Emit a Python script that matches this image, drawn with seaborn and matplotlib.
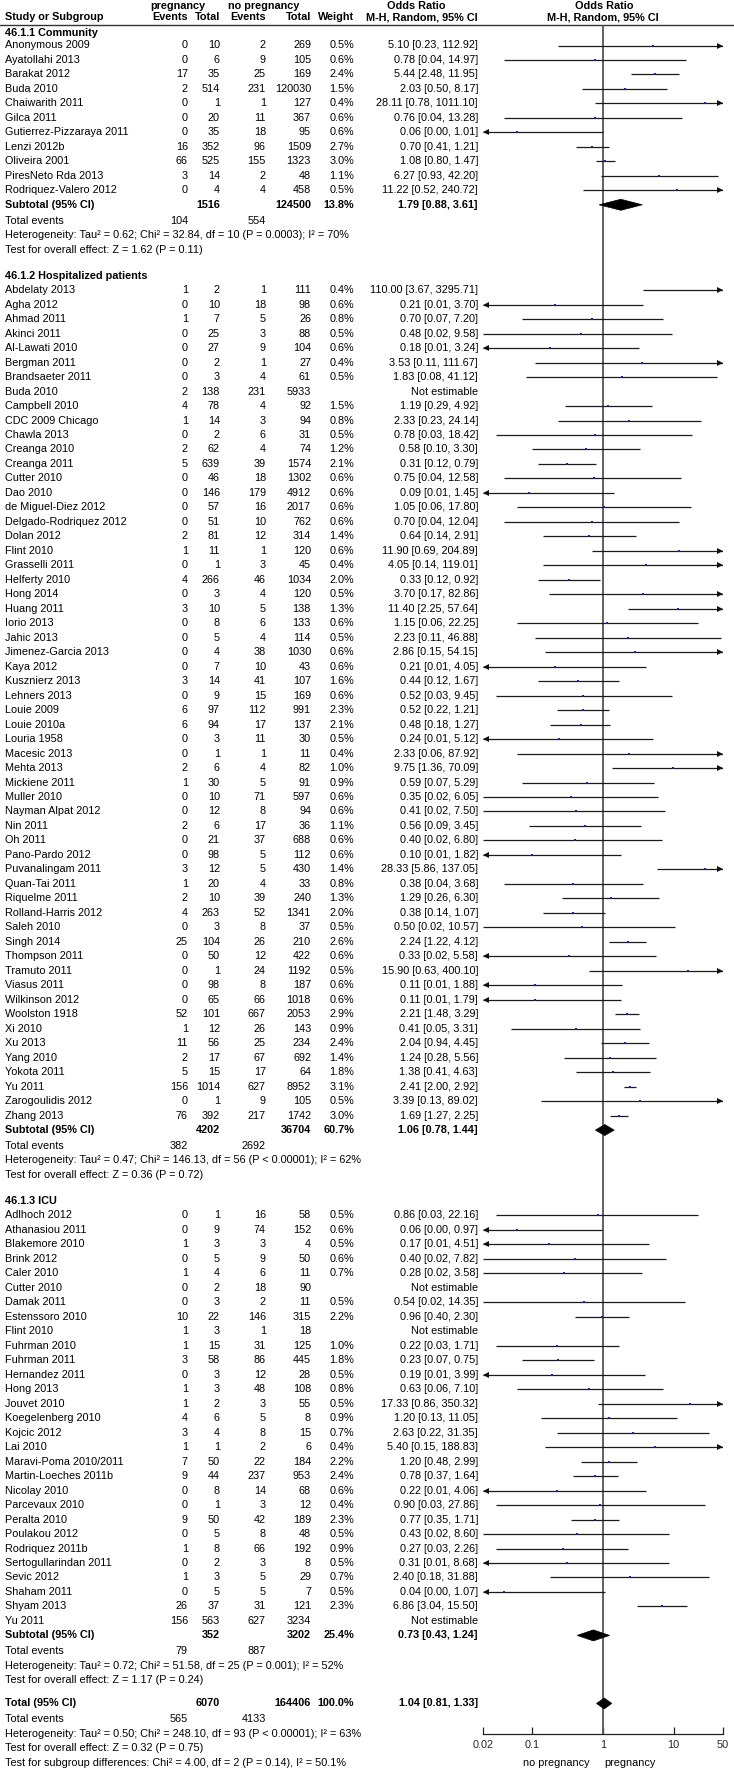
import numpy as np
import pandas as pd
import matplotlib
matplotlib.use("Agg")
import matplotlib.pyplot as plt
import seaborn as sns
from matplotlib.patches import Polygon
from matplotlib.transforms import offset_copy
from matplotlib.ticker import NullLocator

# ---------------- data ----------------
group_titles = ["46.1.1 Community", "46.1.2 Hospitalized patients", "46.1.3 ICU"]

comm_names = ["Anonymous 2009", "Ayatollahi 2013", "Barakat 2012", "Buda 2010", "Chaiwarith 2011",
              "Gilca 2011", "Gutierrez-Pizzaraya 2011", "Lenzi 2012b", "Oliveira 2001",
              "PiresNeto Rda 2013", "Rodriquez-Valero 2012"]
comm_ev_p = [0, 0, 17, 2, 0, 0, 0, 16, 66, 3, 0]
comm_tot_p = [10, 6, 35, 514, 1, 20, 35, 352, 525, 14, 4]
comm_ev_n = [2, 9, 25, 231, 1, 11, 18, 96, 155, 2, 4]
comm_tot_n = [269, 105, 169, 120030, 127, 367, 95, 1509, 1323, 48, 458]
comm_w = [0.5, 0.6, 2.4, 1.5, 0.4, 0.6, 0.6, 2.7, 3.0, 1.1, 0.5]
comm_or = [5.10, 0.78, 5.44, 2.03, 28.11, 0.76, 0.06, 0.70, 1.08, 6.27, 11.22]
comm_lo = [0.23, 0.04, 2.48, 0.50, 0.78, 0.04, 0.00, 0.41, 0.80, 0.93, 0.52]
comm_hi = [112.92, 14.97, 11.95, 8.17, 1011.10, 13.28, 1.01, 1.21, 1.47, 42.20, 240.72]

hosp_names = ["Abdelaty 2013", "Agha 2012", "Ahmad 2011", "Akinci 2011", "Al-Lawati 2010", "Bergman 2011",
              "Brandsaeter 2011", "Buda 2010", "Campbell 2010", "CDC 2009 Chicago", "Chawla 2013",
              "Creanga 2010", "Creanga 2011", "Cutter 2010", "Dao 2010", "de Miguel-Diez 2012",
              "Delgado-Rodriquez 2012", "Dolan 2012", "Flint 2010", "Grasselli 2011", "Helferty 2010",
              "Hong 2014", "Huang 2011", "Iorio 2013", "Jahic 2013", "Jimenez-Garcia 2013", "Kaya 2012",
              "Kusznierz 2013", "Lehners 2013", "Louie 2009", "Louie 2010a", "Louria 1958", "Macesic 2013",
              "Mehta 2013", "Mickiene 2011", "Muller 2010", "Nayman Alpat 2012", "Nin 2011", "Oh 2011",
              "Pano-Pardo 2012", "Puvanalingam 2011", "Quan-Tai 2011", "Riquelme 2011",
              "Rolland-Harris 2012", "Saleh 2010", "Singh 2014", "Thompson 2011", "Tramuto 2011",
              "Viasus 2011", "Wilkinson 2012", "Woolston 1918", "Xi 2010", "Xu 2013", "Yang 2010",
              "Yokota 2011", "Yu 2011", "Zarogoulidis 2012", "Zhang 2013"]
hosp_ev_p = [1, 0, 1, 0, 0, 0, 0, 2, 4, 1, 0, 2, 5, 0, 0, 0, 0, 2, 1, 0, 4, 0, 3, 0, 0, 0, 0, 3, 0, 6,
             6, 0, 0, 2, 1, 0, 0, 2, 0, 0, 3, 1, 2, 4, 0, 25, 0, 0, 0, 0, 52, 1, 11, 2, 5, 156, 0, 76]
hosp_tot_p = [2, 10, 7, 25, 27, 2, 3, 138, 78, 14, 2, 62, 639, 46, 146, 57, 51, 81, 11, 1, 266, 3, 10, 8,
              5, 4, 7, 14, 9, 97, 94, 3, 1, 6, 30, 10, 12, 6, 21, 98, 12, 20, 10, 263, 3, 104, 50, 1, 98,
              65, 101, 12, 56, 17, 15, 1014, 1, 392]
hosp_ev_n = [1, 18, 5, 3, 9, 1, 4, 231, 4, 3, 6, 4, 39, 18, 179, 16, 10, 12, 1, 3, 46, 4, 5, 6, 4, 38, 10,
             41, 15, 112, 17, 11, 1, 4, 5, 71, 8, 17, 37, 5, 5, 4, 39, 52, 8, 26, 12, 24, 8, 66, 667, 26,
             25, 67, 17, 627, 9, 217]
hosp_tot_n = [111, 98, 26, 88, 104, 27, 61, 5933, 92, 94, 31, 74, 1574, 1302, 4912, 2017, 762, 314, 120,
              45, 1034, 120, 138, 133, 114, 1030, 43, 107, 169, 991, 137, 30, 11, 82, 91, 597, 94, 36,
              688, 112, 430, 33, 240, 1341, 37, 210, 422, 1192, 187, 1018, 2053, 143, 234, 692, 64,
              8952, 105, 1742]
hosp_w = [0.4, 0.6, 0.8, 0.5, 0.6, 0.4, 0.5, None, 1.5, 0.8, 0.5, 1.2, 2.1, 0.6, 0.6, 0.6, 0.6, 1.4, 0.6,
          0.4, 2.0, 0.5, 1.3, 0.6, 0.5, 0.6, 0.6, 1.6, 0.6, 2.3, 2.1, 0.5, 0.4, 1.0, 0.9, 0.6, 0.6, 1.1,
          0.6, 0.6, 1.4, 0.8, 1.3, 2.0, 0.5, 2.6, 0.6, 0.5, 0.6, 0.6, 2.9, 0.9, 2.4, 1.4, 1.8, 3.1, 0.5,
          3.0]
hosp_or = [110.00, 0.21, 0.70, 0.48, 0.18, 3.53, 1.83, None, 1.19, 2.33, 0.78, 0.58, 0.31, 0.75, 0.09,
           1.05, 0.70, 0.64, 11.90, 4.05, 0.33, 3.70, 11.40, 1.15, 2.23, 2.86, 0.21, 0.44, 0.52, 0.52,
           0.48, 0.24, 2.33, 9.75, 0.59, 0.35, 0.41, 0.56, 0.40, 0.10, 28.33, 0.38, 1.29, 0.38, 0.50,
           2.24, 0.33, 15.90, 0.11, 0.11, 2.21, 0.41, 2.04, 1.24, 1.38, 2.41, 3.39, 1.69]
hosp_lo = [3.67, 0.01, 0.07, 0.02, 0.01, 0.11, 0.08, None, 0.29, 0.23, 0.03, 0.10, 0.12, 0.04, 0.01,
           0.06, 0.04, 0.14, 0.69, 0.14, 0.12, 0.17, 2.25, 0.06, 0.11, 0.15, 0.01, 0.12, 0.03, 0.22,
           0.18, 0.01, 0.06, 1.36, 0.07, 0.02, 0.02, 0.09, 0.02, 0.01, 5.86, 0.04, 0.26, 0.14, 0.02,
           1.22, 0.0195, 0.63, 0.01, 0.01, 1.48, 0.05, 0.94, 0.28, 0.41, 2.00, 0.13, 1.27]
hosp_hi = [3295.71, 3.70, 7.20, 9.58, 3.24, 111.67, 41.12, None, 4.92, 24.14, 18.42, 3.30, 0.79, 12.58,
           1.45, 17.80, 12.04, 2.91, 204.89, 119.01, 0.92, 82.86, 57.64, 22.25, 46.88, 54.15, 4.05,
           1.67, 9.45, 1.21, 1.27, 5.12, 87.92, 70.09, 5.29, 6.05, 7.50, 3.45, 6.80, 1.82, 137.05,
           3.68, 6.30, 1.07, 10.57, 4.12, 5.58, 400.10, 1.88, 1.79, 3.29, 3.31, 4.45, 5.56, 4.63, 2.92,
           89.02, 2.25]

icu_names = ["Adlhoch 2012", "Athanasiou 2011", "Blakemore 2010", "Brink 2012", "Caler 2010",
             "Cutter 2010", "Damak 2011", "Estenssoro 2010", "Flint 2010", "Fuhrman 2010", "Fuhrman 2011",
             "Hernandez 2011", "Hong 2013", "Jouvet 2010", "Koegelenberg 2010", "Kojcic 2012", "Lai 2010",
             "Maravi-Poma 2010/2011", "Martin-Loeches 2011b", "Nicolay 2010", "Parcevaux 2010",
             "Peralta 2010", "Poulakou 2012", "Rodriquez 2011b", "Sertogullarindan 2011", "Sevic 2012",
             "Shaham 2011", "Shyam 2013", "Yu 2011"]
icu_ev_p = [0, 0, 1, 0, 1, 0, 0, 10, 1, 1, 3, 0, 1, 1, 4, 3, 1, 7, 9, 0, 0, 9, 0, 1, 0, 1, 0, 26, 156]
icu_tot_p = [1, 9, 3, 5, 4, 2, 3, 22, 3, 15, 58, 3, 3, 2, 6, 4, 1, 50, 44, 8, 1, 50, 5, 8, 2, 3, 5, 37, 563]
icu_ev_n = [16, 74, 3, 9, 6, 18, 2, 146, 1, 31, 86, 12, 48, 3, 5, 8, 2, 22, 237, 14, 3, 42, 8, 66, 3, 5, 5,
            31, 627]
icu_tot_n = [58, 152, 4, 50, 11, 90, 11, 315, 18, 125, 445, 28, 108, 55, 8, 15, 6, 184, 953, 68, 12, 189,
             48, 192, 8, 29, 7, 121, 3234]
icu_w = [0.5, 0.6, 0.5, 0.6, 0.7, None, 0.5, 2.2, None, 1.0, 1.8, 0.5, 0.8, 0.5, 0.9, 0.7, 0.4, 2.2, 2.4,
         0.6, 0.4, 2.3, 0.5, 0.9, 0.5, 0.7, 0.5, 2.3, None]
icu_or = [0.86, 0.06, 0.17, 0.40, 0.28, None, 0.54, 0.96, None, 0.22, 0.23, 0.19, 0.63, 17.33, 1.20, 2.63,
          5.40, 1.20, 0.78, 0.22, 0.90, 0.77, 0.43, 0.27, 0.31, 2.40, 0.04, 6.86, None]
icu_lo = [0.03, 0.00, 0.01, 0.02, 0.02, None, 0.02, 0.40, None, 0.03, 0.07, 0.01, 0.06, 0.86, 0.13, 0.22,
          0.15, 0.48, 0.37, 0.01, 0.03, 0.35, 0.02, 0.03, 0.01, 0.18, 0.00, 3.04, None]
icu_hi = [22.16, 0.97, 4.51, 7.82, 3.58, None, 14.35, 2.30, None, 1.71, 0.75, 3.99, 7.10, 350.32, 11.05,
          31.35, 188.83, 2.99, 1.64, 4.06, 27.86, 1.71, 8.60, 2.26, 8.68, 31.88, 1.07, 15.50, None]

sub_tot_p = [1516, 4202, 352]
sub_tot_n = [124500, 36704, 3202]
sub_w = [13.8, 60.7, 25.4]
sub_or = [1.79, 1.06, 0.73]
sub_lo = [0.88, 0.78, 0.43]
sub_hi = [3.61, 1.44, 1.24]
sub_ev_p = [104, 382, 79]
sub_ev_n = [554, 2692, 887]
sub_het = ["Heterogeneity: Tau\u00b2 = 0.62; Chi\u00b2 = 32.84, df = 10 (P = 0.0003); I\u00b2 = 70%",
           "Heterogeneity: Tau\u00b2 = 0.47; Chi\u00b2 = 146.13, df = 56 (P < 0.00001); I\u00b2 = 62%",
           "Heterogeneity: Tau\u00b2 = 0.72; Chi\u00b2 = 51.58, df = 25 (P = 0.001); I\u00b2 = 52%"]
sub_test = ["Test for overall effect: Z = 1.62 (P = 0.11)",
            "Test for overall effect: Z = 0.36 (P = 0.72)",
            "Test for overall effect: Z = 1.17 (P = 0.24)"]

total_tot_p, total_tot_n, total_w = 6070, 164406, 100.0
total_or, total_lo, total_hi = 1.04, 0.81, 1.33
total_ev_p, total_ev_n = 565, 4133
total_het = "Heterogeneity: Tau\u00b2 = 0.50; Chi\u00b2 = 248.10, df = 93 (P < 0.00001); I\u00b2 = 63%"
total_test = "Test for overall effect: Z = 0.32 (P = 0.75)"
subgroup_test = "Test for subgroup differences: Chi\u00b2 = 4.00, df = 2 (P = 0.14), I\u00b2 = 50.1%"

axis_ticks = [0.02, 0.1, 1, 10, 50]
axis_tick_labels = ["0.02", "0.1", "1", "10", "50"]
favours_left, favours_right = "no pregnancy", "pregnancy"

groups = [
    (comm_names, comm_ev_p, comm_tot_p, comm_ev_n, comm_tot_n, comm_w, comm_or, comm_lo, comm_hi),
    (hosp_names, hosp_ev_p, hosp_tot_p, hosp_ev_n, hosp_tot_n, hosp_w, hosp_or, hosp_lo, hosp_hi),
    (icu_names, icu_ev_p, icu_tot_p, icu_ev_n, icu_tot_n, icu_w, icu_or, icu_lo, icu_hi),
]

# ---------------- layout ----------------
W, H = 734, 1770
S = 14.48            # row pitch in px
FS = 7.8
X_NAME, X_EVP, X_TOTP, X_EVN, X_TOTN, X_W, X_CI = 5, 188, 220, 266, 311, 354, 478
FX0, FX1 = 483.2, 722.8
Y_TOP, Y_AXIS = 24.5, 1734.0
LO_LIM, HI_LIM = 0.02, 50

sns.set_theme(style="white")
plt.rcParams["font.family"] = ["Liberation Sans", "DejaVu Sans"]
plt.rcParams["text.color"] = "black"

fig = plt.figure(figsize=(W / 100, H / 100), dpi=100)
axt = fig.add_axes([0, 0, 1, 1])
axt.set_xlim(0, W)
axt.set_ylim(H, 0)
axt.axis("off")

axf = fig.add_axes([FX0 / W, 1 - Y_AXIS / H, (FX1 - FX0) / W, (Y_AXIS - Y_TOP) / H])
axf.patch.set_alpha(0)


def txt(x, y, s, ha="left", bold=False, size=FS):
    axt.text(x, y, s, ha=ha, va="center", fontsize=size,
             fontweight="bold" if bold else "normal", color="black")


def fmt_ci(o, l, h):
    return f"{o:.2f} [{l:.2f}, {h:.2f}]"


# header
txt(178, 6, "pregnancy", ha="center", bold=True)
txt(264, 6, "no pregnancy", ha="center", bold=True)
txt(416, 6, "Odds Ratio", ha="center", bold=True)
txt(604, 6, "Odds Ratio", ha="center", bold=True)
txt(X_NAME, 17.5, "Study or Subgroup", bold=True)
txt(X_EVP, 17.5, "Events", ha="right", bold=True)
txt(X_TOTP, 17.5, "Total", ha="right", bold=True)
txt(X_EVN, 17.5, "Events", ha="right", bold=True)
txt(X_TOTN, 17.5, "Total", ha="right", bold=True)
txt(X_W, 17.5, "Weight", ha="right", bold=True)
txt(X_CI, 17.5, "M-H, Random, 95% CI", ha="right", bold=True)
txt(603, 17.5, "M-H, Random, 95% CI", ha="center", bold=True)
axt.plot([0, W], [Y_TOP, Y_TOP], color="#333333", lw=1.0)

study_rows = []   # y, or, lo, hi
diamonds = []     # y, or, lo, hi

y = 33.0
for gi, g in enumerate(groups):
    names, evp, totp, evn, totn, w, o, lo, hi = g
    txt(X_NAME, y, group_titles[gi], bold=True)
    y += 12.5 if gi == 0 else S
    for i in range(len(names)):
        txt(X_NAME, y, names[i])
        txt(X_EVP, y, str(evp[i]), ha="right")
        txt(X_TOTP, y, str(totp[i]), ha="right")
        txt(X_EVN, y, str(evn[i]), ha="right")
        txt(X_TOTN, y, str(totn[i]), ha="right")
        if w[i] is None:
            txt(X_CI, y, "Not estimable", ha="right")
        else:
            txt(X_W, y, f"{w[i]:.1f}%", ha="right")
            txt(X_CI, y, fmt_ci(o[i], lo[i], hi[i]), ha="right")
            study_rows.append((y, o[i], lo[i], hi[i]))
        y += S
    txt(X_NAME, y, "Subtotal (95% CI)", bold=True)
    txt(X_TOTP, y, str(sub_tot_p[gi]), ha="right", bold=True)
    txt(X_TOTN, y, str(sub_tot_n[gi]), ha="right", bold=True)
    txt(X_W, y, f"{sub_w[gi]:.1f}%", ha="right", bold=True)
    txt(X_CI, y, fmt_ci(sub_or[gi], sub_lo[gi], sub_hi[gi]), ha="right", bold=True)
    diamonds.append((y, sub_or[gi], sub_lo[gi], sub_hi[gi]))
    y += 1.1 * S
    txt(X_NAME, y, "Total events")
    txt(X_EVP, y, str(sub_ev_p[gi]), ha="right")
    txt(X_EVN, y, str(sub_ev_n[gi]), ha="right")
    y += S
    txt(X_NAME, y, sub_het[gi])
    y += S
    txt(X_NAME, y, sub_test[gi])
    y += 1.8 * S if gi < 2 else 1.6 * S

txt(X_NAME, y, "Total (95% CI)", bold=True)
txt(X_TOTP, y, str(total_tot_p), ha="right", bold=True)
txt(X_TOTN, y, str(total_tot_n), ha="right", bold=True)
txt(X_W, y, f"{total_w:.1f}%", ha="right", bold=True)
txt(X_CI, y, fmt_ci(total_or, total_lo, total_hi), ha="right", bold=True)
diamonds.append((y, total_or, total_lo, total_hi))
y += 1.1 * S
txt(X_NAME, y, "Total events")
txt(X_EVP, y, str(total_ev_p), ha="right")
txt(X_EVN, y, str(total_ev_n), ha="right")
y += S
txt(X_NAME, y, total_het)
y += S
txt(X_NAME, y, total_test)
y += S
txt(X_NAME, y, subgroup_test)
y_last = y

# ---------------- forest ----------------
axf.set_xscale("log")
axf.axvline(1, color="#555555", lw=1.3, zorder=1)

right_arrow_tr = offset_copy(axf.transData, fig=fig, x=-2.6, y=0, units="dots")
left_arrow_tr = offset_copy(axf.transData, fig=fig, x=2.6, y=0, units="dots")
pts = []
for (yy, o, lo, hi) in study_rows:
    a = max(lo, LO_LIM)
    b = min(hi, HI_LIM)
    axf.plot([a, b], [yy, yy], color="#1a1a1a", lw=0.9, zorder=2, solid_capstyle="butt")
    if hi > HI_LIM:
        axf.plot([HI_LIM], [yy], marker=">", ms=5, color="#111111", mew=0,
                 transform=right_arrow_tr, clip_on=False, zorder=3)
    if lo < LO_LIM:
        axf.plot([LO_LIM], [yy], marker="<", ms=5, color="#111111", mew=0,
                 transform=left_arrow_tr, clip_on=False, zorder=3)
    if LO_LIM < o < HI_LIM:
        pts.append({"y": yy, "or": o})

pts_df = pd.DataFrame(pts)
sns.scatterplot(data=pts_df, x="or", y="y", ax=axf, marker="s", s=4.2, color="#22228c",
                linewidth=0, zorder=4, legend=False)

for (yy, o, lo, hi) in diamonds:
    h = 5.5
    axf.add_patch(Polygon([[lo, yy], [o, yy - h], [hi, yy], [o, yy + h]], closed=True,
                          facecolor="black", edgecolor="black", lw=0.5, zorder=5))

axf.set_xlim(LO_LIM, HI_LIM)
axf.set_ylim(Y_AXIS, Y_TOP)
axf.set_xlabel("")
axf.set_ylabel("")
axf.set_yticks([])
for sp in ["top", "right", "left"]:
    axf.spines[sp].set_visible(False)
axf.spines["bottom"].set_color("#222222")
axf.spines["bottom"].set_linewidth(0.9)
axf.set_xticks(axis_ticks)
axf.set_xticklabels(axis_tick_labels)
axf.xaxis.set_minor_locator(NullLocator())
axf.tick_params(axis="x", direction="in", length=5, width=0.9, color="#222222",
                labelsize=FS, pad=4, bottom=True)

txt(590, 1763, favours_left, ha="right")
txt(604, 1763, favours_right, ha="left")

fig.savefig("out.png", dpi=100)
